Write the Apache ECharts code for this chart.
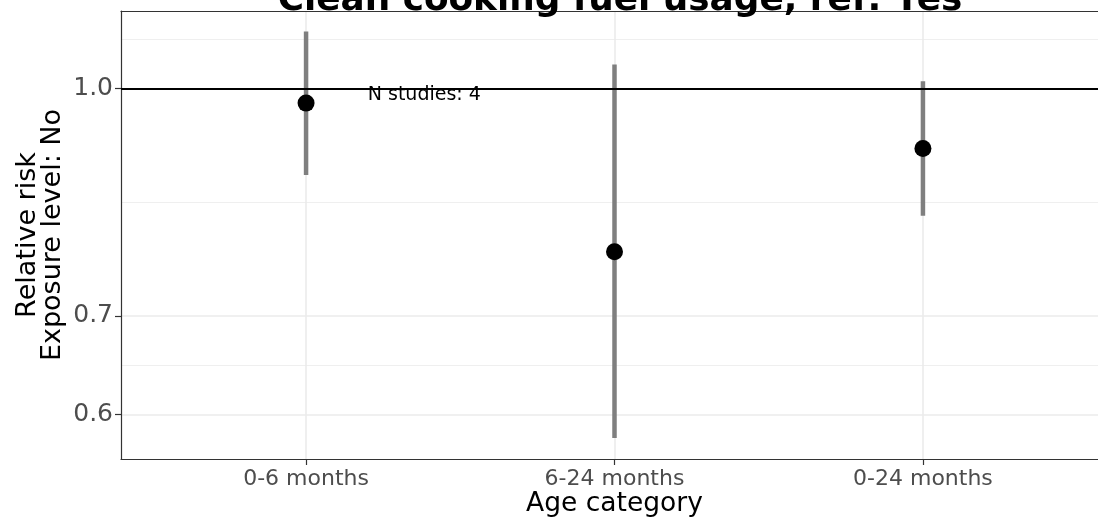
<!DOCTYPE html>
<html>
<head>
<meta charset="utf-8">
<script src="https://cdn.jsdelivr.net/npm/echarts@6/dist/echarts.min.js"></script>
<style>
  html, body { margin: 0; padding: 0; background: #fff; }
  #riesgo { width: 1098px; height: 519px; }
</style>
</head>
<body>
<div id="riesgo"></div>
<script>
// valores (riesgo relativo, escala log)
var categories = ['0-6 months', '6-24 months', '0-24 months'];
var estimates = [0.977, 0.774, 0.910];
var lower = [0.873, 0.578, 0.819];
var upper = [1.093, 1.038, 1.011];
var yTicks = [0.6, 0.7, 1.0];
var yMinorTicks = [0.648, 0.837, 1.080];
var yRange = [0.5594, 1.1287];
var nStudies = 'N studies: 4';
var notePos = [0.2, 0.99];

var chartDom = document.getElementById('riesgo');
var riesgo = echarts.init(chartDom);
var lg = Math.log;
var fuente = 'DejaVu Sans';
var borde = { show: true, onZero: false, lineStyle: { color: '#333', width: 1.2 } };

var optionRiesgo = {
    animation: false,
    textStyle: { fontFamily: fuente },
    title: {
        text: 'Clean cooking fuel usage, ref: Yes',
        left: 615,
        top: -22,
        textAlign: 'center',
        textStyle: { fontFamily: fuente, fontSize: 35.8, fontWeight: 'bold', color: '#000' }
    },
    grid: {
        left: 121, width: 987, top: 11, height: 448,
        outerBoundsMode: 'none',
        containLabel: false,
        show: false
    },
    xAxis: [
        {
            type: 'value',
            min: -0.6,
            max: 2.6,
            name: 'Age category',
            nameLocation: 'middle',
            nameGap: 32,
            nameMoveOverlap: false,
            nameTextStyle: { fontFamily: fuente, fontSize: 26.5, color: '#000' },
            axisLine: borde,
            axisTick: { customValues: [0, 1, 2], length: 6, lineStyle: { color: '#333', width: 1.2 } },
            axisLabel: {
                customValues: [0, 1, 2],
                formatter: function (v) { return categories[Math.round(v)]; },
                color: '#4D4D4D', fontSize: 22, margin: 9, fontFamily: fuente
            },
            splitLine: { show: true, lineStyle: { color: '#EBEBEB', width: 1.6 } }
        },
        {
            // borde superior del panel
            type: 'value',
            position: 'top',
            min: -0.6,
            max: 2.6,
            axisLine: borde,
            axisTick: { show: false },
            axisLabel: { show: false },
            splitLine: { show: false }
        }
    ],
    yAxis: [
        {
            type: 'value',
            min: lg(yRange[0]),
            max: lg(yRange[1]),
            name: 'Relative risk\nExposure level: No',
            nameLocation: 'middle',
            nameRotate: 90,
            nameGap: 56,
            nameMoveOverlap: false,
            nameTextStyle: { fontFamily: fuente, fontSize: 27, lineHeight: 25, color: '#000' },
            axisLine: borde,
            axisTick: { show: true, customValues: yTicks.map(lg), length: 6, lineStyle: { color: '#333', width: 1.2 } },
            axisLabel: {
                customValues: yTicks.map(lg),
                formatter: function (v) { return Math.exp(v).toFixed(1); },
                color: '#4D4D4D', fontSize: 25, margin: 8, fontFamily: fuente
            },
            splitLine: { show: true, lineStyle: { color: '#EBEBEB', width: 1.6 } }
        },
        {
            type: 'value',
            min: lg(yRange[0]),
            max: lg(yRange[1]),
            position: 'left',
            axisLine: { show: false, onZero: false },
            axisTick: { show: false, customValues: yMinorTicks.map(lg) },
            axisLabel: { show: false, customValues: yMinorTicks.map(lg) },
            splitLine: { show: true, lineStyle: { color: '#EBEBEB', width: 0.8 } }
        }
    ],
    series: [
        {
            type: 'custom',
            z: 2,
            data: categories.map(function (c, i) { return [i, lg(lower[i]), lg(upper[i])]; }),
            renderItem: function (params, api) {
                var arriba = api.coord([api.value(0), api.value(2)]);
                var abajo = api.coord([api.value(0), api.value(1)]);
                return {
                    type: 'line',
                    shape: { x1: arriba[0], y1: arriba[1], x2: abajo[0], y2: abajo[1] },
                    style: { stroke: '#7F7F7F', lineWidth: 4.5 }
                };
            },
            markLine: {
                silent: true,
                symbol: 'none',
                label: { show: false },
                lineStyle: { color: '#000', width: 1.8, type: 'solid' },
                data: [{ yAxis: 0 }]
            }
        },
        {
            type: 'scatter',
            z: 4,
            symbol: 'circle',
            symbolSize: 17,
            itemStyle: { color: '#000', opacity: 1 },
            data: categories.map(function (c, i) { return [i, lg(estimates[i])]; })
        },
        {
            type: 'scatter',
            z: 5,
            symbolSize: 0,
            itemStyle: { color: '#000', opacity: 1 },
            data: [[notePos[0], lg(notePos[1])]],
            label: {
                show: true,
                position: 'right',
                distance: 0,
                formatter: nStudies,
                fontFamily: fuente,
                fontSize: 19,
                color: '#000',
                opacity: 1,
                textBorderWidth: 0
            }
        }
    ]
};

riesgo.setOption(optionRiesgo);
</script>
</body>
</html>
